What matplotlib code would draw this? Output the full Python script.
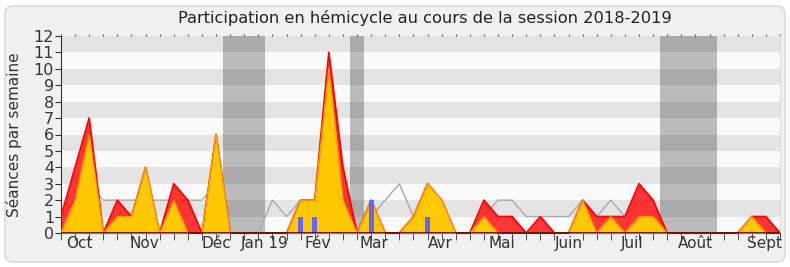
import matplotlib
matplotlib.use("Agg")
import matplotlib.pyplot as plt
from matplotlib.patches import FancyBboxPatch
import numpy as np

# weekly values, session 2018-2019 (week 0 .. 51)
weeks = list(range(52))
total = [1, 4, 7, 0, 2, 1, 4, 0, 3, 2, 0, 6, 0, 0, 0, 0, 0, 2, 2, 11,
         4, 0, 2, 0, 0, 1, 3, 2, 0, 0, 2, 1, 1, 0, 1, 0, 0, 2, 1, 1,
         1, 3, 2, 0, 0, 0, 0, 0, 0, 1, 1, 0]
hemicycle = [0, 2, 6, 0, 1, 1, 4, 0, 2, 0, 0, 6, 0, 0, 0, 0, 0, 2, 2, 10,
             2, 0, 2, 0, 0, 1, 3, 2, 0, 0, 1, 0, 0, 0, 0, 0, 0, 2, 0, 1,
             0, 1, 1, 0, 0, 0, 0, 0, 0, 1, 0, 0]
median = [1, 2, 3, 2, 2, 2, 2, 2, 2, 2, 2, 3, 0, 0, 0, 2, 1, 2, 1, 3,
          2, 0, 1, 2, 3, 1, 0, 0, 0, 0, 1, 2, 2, 1, 1, 1, 1, 2, 1, 2,
          1, 2, 1, 0, 0, 0, 0, 0, 0, 0, 0, 0]
question_weeks = [17, 18, 22, 26]
question_values = [1, 1, 2, 1]
vacations = [(11.5, 14.5), (20.5, 21.5), (42.5, 46.5)]
month_labels = ['Oct', 'Nov', 'Déc', 'Jan 19', 'Fév', 'Mar', 'Avr', 'Mai',
                'Juin', 'Juil', 'Août', 'Sept']
month_pos = [1.33, 5.94, 11.04, 14.43, 18.2, 22.18, 26.9, 31.25, 36.0, 40.5, 45.0, 49.9]

plt.rcParams['font.family'] = ['DejaVu Sans']
fig = plt.figure(figsize=(7.9, 2.67), dpi=100, facecolor='white')
box = FancyBboxPatch((0.05, 0.05), 7.8, 2.56, boxstyle='round,pad=0,rounding_size=0.08',
                     transform=fig.dpi_scale_trans, facecolor='#f0f0f0',
                     edgecolor='#dcdcdc', linewidth=1.2, zorder=-10)
fig.patches.append(box)

ax = fig.add_axes([61 / 790, 34 / 267, 719 / 790, 197 / 267])
ax.set_facecolor('#fafafa')

# horizontal stripes
for k in range(1, 12, 2):
    ax.axhspan(k, k + 1, color='#e4e4e4', zorder=0, lw=0)

for a, b in vacations:
    ax.axvspan(a, b, color='black', alpha=0.25, zorder=1, lw=0)

ax.plot(weeks, median, color='#aaaaaa', lw=1.0, zorder=1.5)
ax.fill_between(weeks, total, color='#ff2020', alpha=0.9, zorder=2, lw=0)
ax.plot(weeks, total, color='#ff0000', lw=1.3, zorder=3)
ax.fill_between(weeks, hemicycle, color='#ffd200', alpha=0.95, zorder=4, lw=0)
ax.plot(weeks, hemicycle, color='#ff9a00', lw=1.0, zorder=5)
ax.bar(question_weeks, question_values, width=0.35, color='#6464ff', zorder=7)
ax.axhline(0, color='#550000', lw=1.2, zorder=8)

ax.set_xlim(0, 51)
ax.set_ylim(0, 12)
ax.set_yticks(range(13))
ax.set_xticks(month_pos)
ax.set_xticklabels(month_labels)
ax.set_xticks(weeks, minor=True)
ax.tick_params(axis='x', which='major', length=0, labelsize=11, colors='#333333', pad=2)
ax.tick_params(axis='x', which='minor', length=5, color='#333333', direction='out')
ax.tick_params(axis='y', length=4, labelsize=11.5, colors='#333333', pad=1)
top = ax.secondary_xaxis('top')
top.set_xticks(weeks)
top.tick_params(length=1.2, width=0.8, color='#555555', labelsize=0, labeltop=False)
top.spines['top'].set_visible(False)
for s in ['top', 'right']:
    ax.spines[s].set_visible(False)
ax.spines['left'].set_color('#333333')
ax.spines['bottom'].set_color('#333333')
ax.spines['right'].set_visible(True)
ax.spines['right'].set_color('#dddddd')

ax.set_ylabel('Séances par semaine', fontsize=11, color='#333333', labelpad=8)
fig.text(0.538, 0.933, 'Participation en hémicycle au cours de la session 2018-2019',
         ha='center', va='center', fontsize=11.7, color='#222222')

fig.savefig('out.png', dpi=100, facecolor=fig.get_facecolor())
